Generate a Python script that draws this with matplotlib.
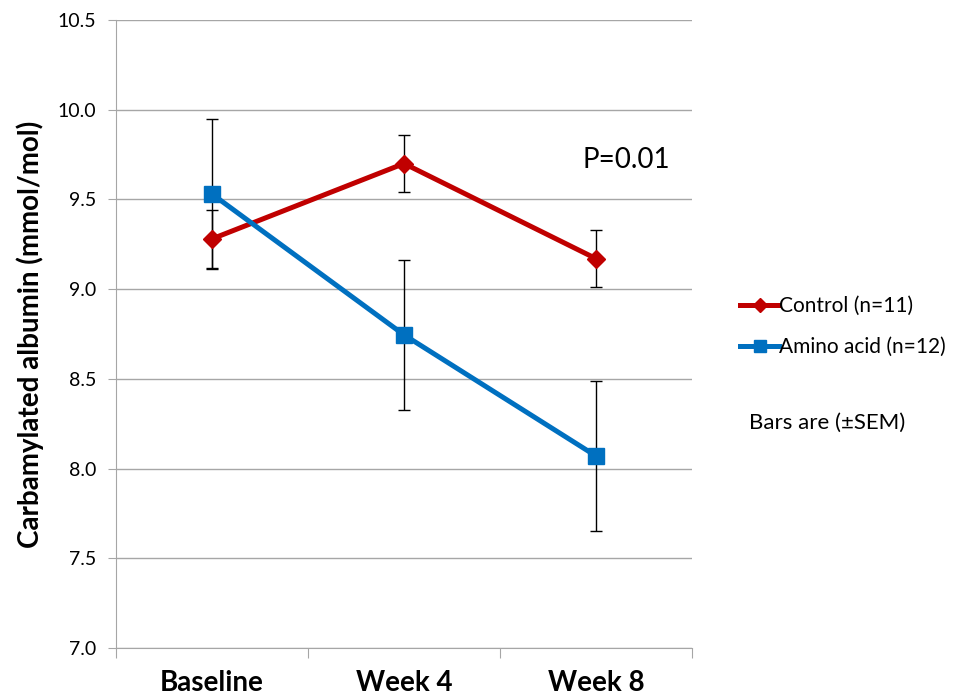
import matplotlib

matplotlib.use("Agg")
import matplotlib.pyplot as plt
from matplotlib.lines import Line2D

categories = ["Baseline", "Week 4", "Week 8"]
control_mean = [9.28, 9.70, 9.17]
control_sem = [0.16, 0.16, 0.16]
amino_mean = [9.53, 8.745, 8.07]
amino_sem = [0.42, 0.42, 0.42]
y_ticks = [7.0, 7.5, 8.0, 8.5, 9.0, 9.5, 10.0, 10.5]

RED = "#C00000"
BLUE = "#0070C0"
GRID = "#A6A6A6"

plt.rcParams["font.family"] = ["Lato", "DejaVu Sans"]

fig = plt.figure(figsize=(9.57, 6.99), dpi=100)
ax = fig.add_axes([0.1212, 0.0730, 0.6019, 0.8984])

x = list(range(len(categories)))

# error bars underneath the lines
ax.errorbar(x, control_mean, yerr=control_sem, fmt="none", ecolor="black",
            elinewidth=1, capsize=4, capthick=1, zorder=2)
ax.errorbar(x, amino_mean, yerr=amino_sem, fmt="none", ecolor="black",
            elinewidth=1, capsize=4, capthick=1, zorder=2)

ax.plot(x, control_mean, "-", color=RED, linewidth=3.6, marker="D",
        markersize=9, zorder=3)
ax.plot(x, amino_mean, "-", color=BLUE, linewidth=3.6, marker="s",
        markersize=11, zorder=4)

ax.set_xlim(-0.5, 2.5)
ax.set_ylim(7.0, 10.5)
ax.set_yticks(y_ticks)
ax.set_yticklabels([f"{v:.1f}" for v in y_ticks], fontsize=14)
ax.yaxis.grid(True, color=GRID, linewidth=1)
ax.set_axisbelow(True)

# category labels between boundary ticks
ax.set_xticks([-0.5, 0.5, 1.5, 2.5])
ax.set_xticklabels([])
ax.set_xticks(x, minor=True)
ax.set_xticklabels(categories, minor=True, fontsize=20, fontweight="bold")
ax.tick_params(axis="x", which="major", length=7, color=GRID, direction="out")
ax.tick_params(axis="x", which="minor", length=0, pad=16)
ax.tick_params(axis="y", length=6, color=GRID, direction="out", pad=8)

for side in ("top", "right"):
    ax.spines[side].set_visible(False)
for side in ("left", "bottom"):
    ax.spines[side].set_color(GRID)

ax.set_ylabel("Carbamylated albumin (mmol/mol)", fontsize=20,
              fontweight="bold", labelpad=10)

ax.text(2.16, 9.72, "P=0.01", fontsize=20, ha="center", va="center")

handles = [
    Line2D([], [], color=RED, linewidth=3.6, marker="D", markersize=7),
    Line2D([], [], color=BLUE, linewidth=3.6, marker="s", markersize=9),
]
fig.legend(handles, ["Control (n=11)", "Amino acid (n=12)"],
           loc="upper left", bbox_to_anchor=(0.765, 0.588), frameon=False,
           fontsize=15, handlelength=1.85, handletextpad=0.0,
           labelspacing=1.0, borderaxespad=0)

fig.text(0.783, 0.395, "Bars are (\u00b1SEM)", fontsize=16, va="center")

fig.savefig("out.png", dpi=100)
